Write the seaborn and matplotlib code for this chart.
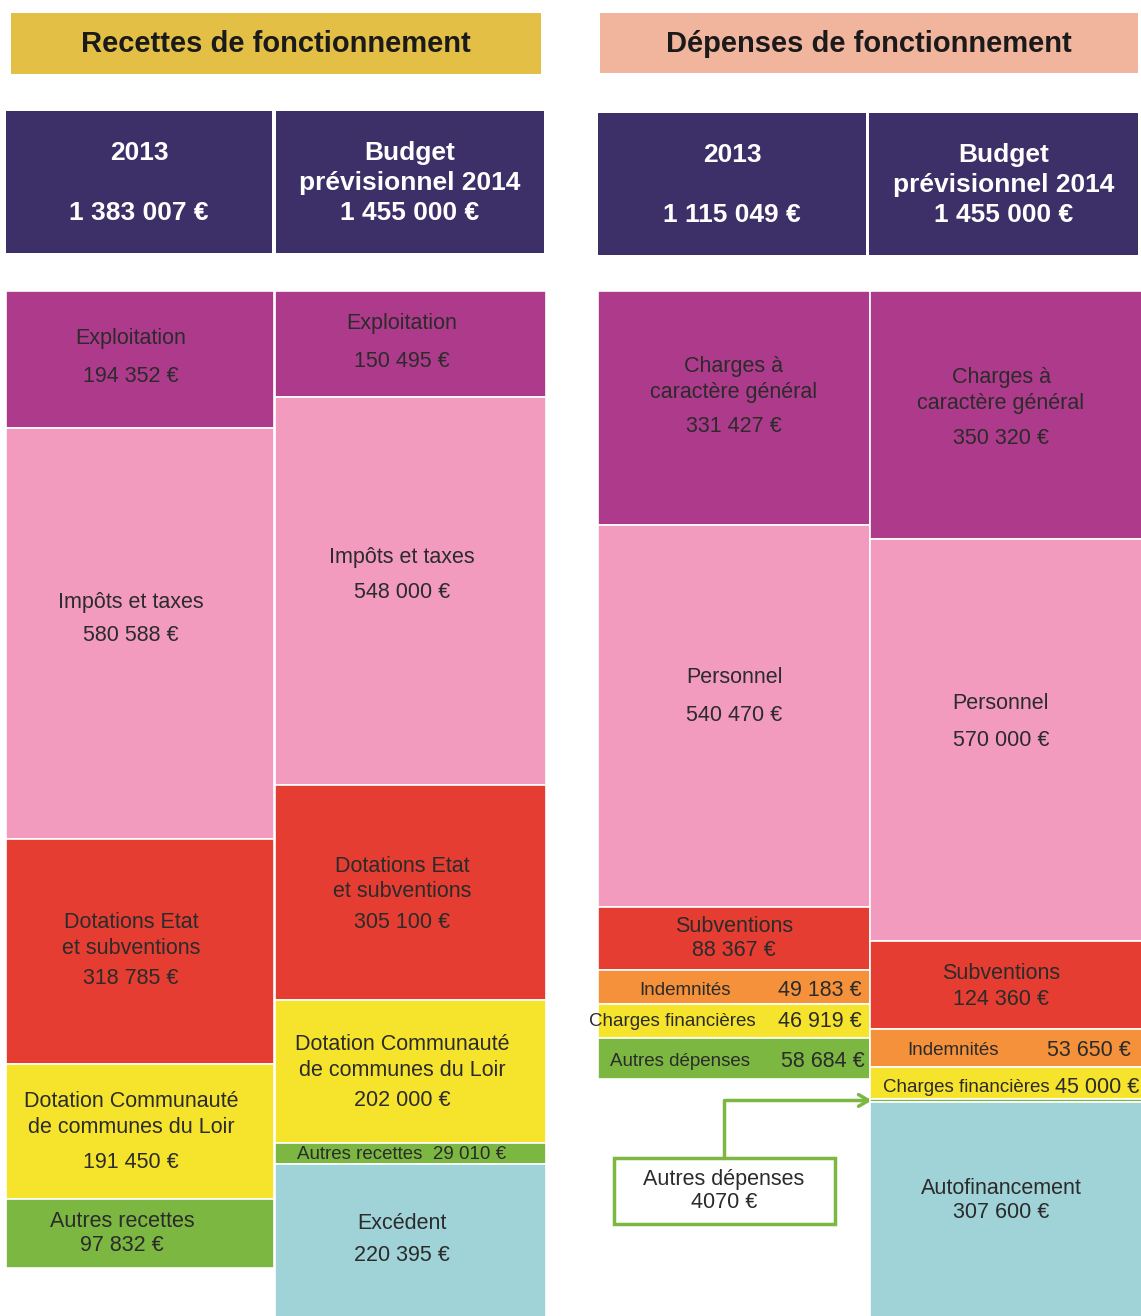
import numpy as np
import pandas as pd
import seaborn as sns
import matplotlib.pyplot as plt
from matplotlib.patches import Rectangle

sns.set_theme(style='white')
plt.rcParams['font.family'] = ['Liberation Sans', 'DejaVu Sans']

# ---------------------------------------------------
# Données
# ---------------------------------------------------
titres = ['Recettes de fonctionnement', 'Dépenses de fonctionnement']

entetes = [['2013', '1 383 007 €'],
           ['Budget', 'prévisionnel 2014', '1 455 000 €'],
           ['2013', '1 115 049 €'],
           ['Budget', 'prévisionnel 2014', '1 455 000 €']]

rec_2013_noms = ['Exploitation', 'Impôts et taxes', 'Dotations Etat\net subventions',
                 'Dotation Communauté\nde communes du Loir', 'Autres recettes']
rec_2013 = [194352, 580588, 318785, 191450, 97832]

rec_2014_noms = ['Exploitation', 'Impôts et taxes', 'Dotations Etat\net subventions',
                 'Dotation Communauté\nde communes du Loir', 'Autres recettes', 'Excédent']
rec_2014 = [150495, 548000, 305100, 202000, 29010, 220395]

dep_2013_noms = ['Charges à\ncaractère général', 'Personnel', 'Subventions',
                 'Indemnités', 'Charges financières', 'Autres dépenses']
dep_2013 = [331427, 540470, 88367, 49183, 46919, 58684]

dep_2014_noms = ['Charges à\ncaractère général', 'Personnel', 'Subventions',
                 'Indemnités', 'Charges financières', 'Autres dépenses', 'Autofinancement']
dep_2014 = [350320, 570000, 124360, 53650, 45000, 4070, 307600]

# ---------------------------------------------------
# Couleurs
# ---------------------------------------------------
MAG = '#AE3A8B'
ROSE = '#F39BBF'
ROUGE = '#E53D31'
JAUNE = '#F6E42C'
VERT = '#7CB741'
ORANGE = '#F4913A'
BLEU = '#A0D3D7'
VIOLET = '#3D2F67'
OR = '#E4BF46'
SAUMON = '#F1B59E'
TXT = '#2b2b2b'

couleurs = [[MAG, ROSE, ROUGE, JAUNE, VERT],
            [MAG, ROSE, ROUGE, JAUNE, VERT, BLEU],
            [MAG, ROSE, ROUGE, ORANGE, JAUNE, VERT],
            [MAG, ROSE, ROUGE, ORANGE, JAUNE, VERT, BLEU]]

# mise en page (pixels)
EUR_PX = 1415.0          # euros par pixel
Y0 = 291                 # haut des colonnes
col_gauche = [6, 275, 598, 870]
col_larg = [268, 271, 272, 272]
col_txt_x = [131, 402, 734, 1001]
FS = 15.5                # taille du texte dans les colonnes

# style des étiquettes : ('pile', dy_nom, dy_valeur, dx) / ('ligne', x_nom, x_valeur, dy, ha_valeur)
etiq = [
    [('pile', -21, 17, 0), ('pile', -31, 2, 0), ('pile', -15.5, 27, 0), ('pile', -17, 31, 0),
     ('pile', -12, 12, -9)],
    [('pile', -21, 17, 0), ('pile', -33, 2, 0), ('pile', -13.5, 30, 0), ('pile', -14.5, 29, 0),
     ('une', 1), ('pile', -18, 14, 0)],
    [('pile', -29, 18, 0), ('pile', -39, -1, 0), ('pile', -12, 12, 0),
     ('ligne', 685, 778, 3, 'left'), ('ligne', 672, 778, 1, 'left'), ('ligne', 680, 781, 3, 'left')],
    [('pile', -24, 24, 0), ('pile', -36, 1, 0), ('pile', -12, 14, 0),
     ('ligne', 953, 1047, 2, 'left'), ('ligne', 966, 1139, 4, 'right'), ('note',), ('pile', -22, 2, 0)],
]

noms = [rec_2013_noms, rec_2014_noms, dep_2013_noms, dep_2014_noms]
valeurs = [rec_2013, rec_2014, dep_2013, dep_2014]


def fmt(v):
    return f'{v:,}'.replace(',', ' ') + ' €'


fig = plt.figure(figsize=(11.41, 13.16), dpi=100)

# fond : titres et entêtes en pixels
ax_bg = fig.add_axes([0, 0, 1, 1])
ax_bg.set_xlim(0, 1141)
ax_bg.set_ylim(1316, 0)
ax_bg.axis('off')

ax_bg.add_patch(Rectangle((11, 13), 530, 61, color=OR, lw=0))
ax_bg.add_patch(Rectangle((600, 13), 538, 60, color=SAUMON, lw=0))
ax_bg.text(276, 44, titres[0], ha='center', va='center', fontsize=21, fontweight='bold', color='#1a1a1a')
ax_bg.text(869, 44, titres[1], ha='center', va='center', fontsize=21, fontweight='bold', color='#1a1a1a')

boites = [(6, 111, 266, 142), (276, 111, 268, 142), (598, 113, 268, 142), (869, 113, 269, 142)]
for (x, y, w, h), lignes in zip(boites, entetes):
    ax_bg.add_patch(Rectangle((x, y), w, h, color=VIOLET, lw=0))
    ys = [y + 42, y + 102] if len(lignes) == 2 else [y + 42, y + 72, y + 102]
    for t, yy in zip(lignes, ys):
        ax_bg.text(x + w / 2, yy, t, ha='center', va='center', fontsize=19,
                   fontweight='bold', color='white')

# colonnes empilées (euros)
ax = fig.add_axes([0, 0, 1, (1316 - Y0) / 1316])
ax.set_xlim(0, 1141)
ax.set_ylim(1025 * EUR_PX, 0)
ax.axis('off')
ax.patch.set_alpha(0)

for i in range(4):
    vals = np.array(valeurs[i])
    bas = np.concatenate([[0], np.cumsum(vals)[:-1]])
    barres = ax.bar(col_gauche[i], vals, width=col_larg[i], bottom=bas, align='edge',
                    color=couleurs[i], edgecolor='white', linewidth=1.2)
    for j, (nom, v, b) in enumerate(zip(noms[i], vals, bas)):
        st = etiq[i][j]
        mid = b + v / 2
        if st[0] == 'pile':
            x = col_txt_x[i] + st[3]
            ax.text(x, mid + st[1] * EUR_PX, nom, ha='center', va='center',
                    fontsize=FS, color=TXT, linespacing=1.3)
            ax.text(x, mid + st[2] * EUR_PX, fmt(v), ha='center', va='center',
                    fontsize=FS, color=TXT)
        elif st[0] == 'une':
            ax.text(col_txt_x[i], mid + st[1] * EUR_PX, nom + '  ' + fmt(v), ha='center',
                    va='center', fontsize=13.5, color=TXT)
        elif st[0] == 'ligne':
            t1 = ax.text(st[1], mid + st[3] * EUR_PX, nom, ha='center', va='center',
                         fontsize=13.5, color=TXT)
            t2 = ax.text(st[2], mid + st[3] * EUR_PX, fmt(v), ha=st[4], va='center',
                         fontsize=FS, color=TXT)
            t1.set_clip_path(barres[j])
        elif st[0] == 'note':
            # encadré "Autres dépenses" relié à la colonne
            ax_bg.add_patch(Rectangle((614, 1158), 221, 66, fc='white', ec=VERT, lw=2.5, zorder=3))
            ax_bg.text(724, 1180, nom, ha='center', va='center', fontsize=FS, color=TXT, zorder=4)
            ax_bg.text(724, 1203, f'{v} €', ha='center', va='center', fontsize=FS, color=TXT, zorder=4)
            ax_bg.annotate('', xy=(col_gauche[i] + 2, mid), xycoords=ax.transData,
                           xytext=(724, 1158), textcoords=ax_bg.transData,
                           arrowprops=dict(arrowstyle='->,head_length=0.6,head_width=0.35',
                                           color=VERT, lw=2.5, shrinkA=0, shrinkB=0,
                                           connectionstyle='angle,angleA=90,angleB=0,rad=0'))

plt.savefig('out.png', dpi=100)
